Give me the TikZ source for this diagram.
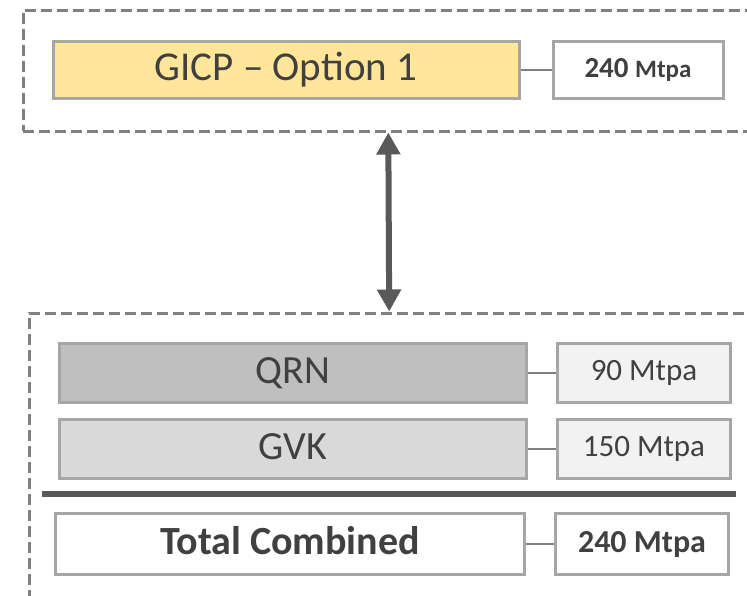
\documentclass[tikz,border=0pt]{standalone}
\usepackage{fontspec}
\setmainfont{Carlito}
\usetikzlibrary{positioning, arrows.meta}

\definecolor{gicpyellow}{HTML}{FFE699}
\definecolor{qrngray}{HTML}{BFBFBF}
\definecolor{gvkgray}{HTML}{D9D9D9}
\definecolor{valgray}{HTML}{F2F2F2}
\definecolor{boxgray}{HTML}{A6A6A6}
\definecolor{framegray}{HTML}{808080}
\definecolor{linkgray}{HTML}{7F7F7F}
\definecolor{arrowgray}{HTML}{595959}
\definecolor{textgray}{HTML}{404040}

\newcommand{\fsize}[1]{\fontsize{#1}{#1}\selectfont}

\begin{document}
\begin{tikzpicture}[
        x=1pt, y=-1pt,
        node distance=28pt,
        mainbox/.style={rectangle, draw=boxgray, line width=3pt, minimum width=467pt, minimum height=59pt, inner sep=0pt, text=textgray},
        valbox/.style={mainbox, minimum width=173pt, fill=white},
        size/.style={font=\fsize{#1}, text height={0.7*#1pt}, text depth={0.2*#1pt}},
        frame/.style={rectangle, draw=framegray, line width=3pt, dash pattern=on 11pt off 5pt, inner sep=0pt},
        link/.style={draw=linkgray, line width=2pt},
        twoway/.style={draw=arrowgray, line width=6pt, {Triangle[width=23pt,length=22pt]}-{Triangle[width=23pt,length=22pt]}}
    ]
    \clip (0,0) rectangle (747,595);

    % Frames
    \node[frame, minimum width=730pt, minimum height=121pt] (topframe) at (388,70.5) {};
    \node[frame, minimum width=722pt, minimum height=327pt] (botframe) at (390,476.5) {};
    \draw[twoway] (topframe) -- (botframe);

    % GICP option
    \node[mainbox, fill=gicpyellow, minimum width=466pt, minimum height=57pt, size=41] (gicp) at (286,70) {GICP – Option 1};
    \node[valbox, right=31pt of gicp, minimum width=170pt, minimum height=57pt, size=29] (gicpval) {\bfseries 240 {\fsize{25}Mtpa}};
    \draw[link] (gicp) -- (gicpval);

    % QRN and GVK
    \node[mainbox, fill=qrngray, size=40] (qrn) at (293,373) {QRN};
    \node[valbox, fill=valgray, right=of qrn, size=31] (qrnval) {90 Mtpa};
    \draw[link] (qrn) -- (qrnval);

    \node[mainbox, fill=gvkgray, size=40] (gvk) at (293,449) {GVK};
    \node[valbox, fill=valgray, right=of gvk, size=31] (gvkval) {150 Mtpa};
    \draw[link] (gvk) -- (gvkval);

    % Sum line
    \draw[arrowgray, line width=6pt] (42,494) -- (736,494);

    % Total
    \node[mainbox, minimum width=469pt, minimum height=61pt, fill=white, size=40] (total) at (290,544) {\bfseries Total Combined};
    \node[valbox, minimum height=61pt, right=of total, size=32] (totalval) {\bfseries 240 Mtpa};
    \draw[link] (total) -- (totalval);
\end{tikzpicture}
\end{document}
